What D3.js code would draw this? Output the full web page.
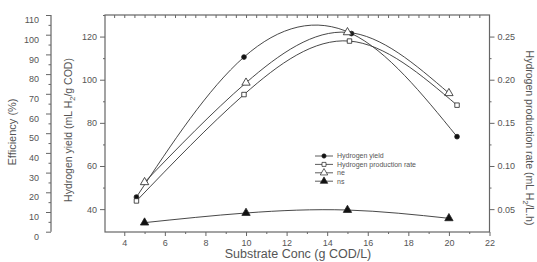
<!DOCTYPE html>
<html lang="en">
<head>
    <meta charset="UTF-8">
    <title>Hydrogen yield vs substrate concentration</title>
    <script src="https://d3js.org/d3.v7.min.js"></script>
    <style>
        body { margin: 0; background: #fff; }
        svg text { font-family: "Liberation Sans", Arial, sans-serif; fill: #555; }
    </style>
</head>
<body>
    <div id="chart"></div>

    <script>
        // Data
        const xTicks = [4, 6, 8, 10, 12, 14, 16, 18, 20, 22];
        const yieldTicks = [40, 60, 80, 100, 120];
        const rateTicks = [0.05, 0.10, 0.15, 0.20, 0.25];
        const effTicks = [0, 10, 20, 30, 40, 50, 60, 70, 80, 90, 100, 110];

        const yieldX = [4.6, 9.9, 15.2, 20.4];
        const yieldY = [45.6, 110.5, 121.4, 73.6];          // mL H2/g COD
        const rateX = [4.6, 9.9, 15.1, 20.4];
        const rateY = [0.0595, 0.1828, 0.2448, 0.1705];      // mL H2/L.h
        const neX = [5, 10, 15, 20];
        const neY = [25.1, 75.6, 101.2, 70.3];               // %
        const nsX = [5, 10, 15, 20];
        const nsY = [4.6, 9.5, 11.0, 6.8];                   // %

        const width = 537, height = 262;
        const plot = { left: 105, right: 489.5, top: 15, bottom: 232 };
        const effAxisX = 51;

        const svg = d3.select("#chart").append("svg")
            .attr("width", width)
            .attr("height", height);

        const x = d3.scaleLinear().domain([3.05, 22]).range([plot.left, plot.right]);
        const yYield = d3.scaleLinear().domain([29.4, 130]).range([plot.bottom, plot.top]);
        const yRate = d3.scaleLinear().domain([0.0235, 0.275]).range([plot.bottom, plot.top]);
        const yEff = d3.scaleLinear().domain([0, 110]).range([231.7, 15]);

        const axisColor = "#666";
        const lineColor = "#333";

        // frame
        svg.append("rect")
            .attr("x", plot.left).attr("y", plot.top)
            .attr("width", plot.right - plot.left).attr("height", plot.bottom - plot.top)
            .attr("fill", "none").attr("stroke", axisColor).attr("stroke-width", 1.2);

        function styleAxis(g) {
            g.select(".domain").remove();
            g.selectAll("line").attr("stroke", axisColor);
            g.selectAll("text").attr("font-size", 9).attr("fill", "#5e5e5e");
        }

        // bottom axis
        svg.append("g")
            .attr("transform", `translate(0,${plot.bottom})`)
            .call(d3.axisBottom(x).tickValues(xTicks).tickSize(4).tickPadding(4))
            .call(styleAxis);
        svg.append("g")
            .attr("transform", `translate(0,${plot.bottom})`)
            .call(d3.axisBottom(x).tickValues(d3.range(5, 22, 2)).tickSize(2).tickFormat(""))
            .call(styleAxis);
        // top minor ticks
        svg.append("g")
            .attr("transform", `translate(0,${plot.top})`)
            .call(d3.axisBottom(x).tickValues(d3.range(3.5, 22, 0.5)).tickSize(3).tickFormat(""))
            .call(styleAxis);

        // left (hydrogen yield) axis
        svg.append("g")
            .attr("transform", `translate(${plot.left},0)`)
            .call(d3.axisLeft(yYield).tickValues(yieldTicks).tickSize(5).tickPadding(3))
            .call(styleAxis);
        svg.append("g")
            .attr("transform", `translate(${plot.left},0)`)
            .call(d3.axisLeft(yYield).tickValues([50, 70, 90, 110, 130]).tickSize(2).tickFormat(""))
            .call(styleAxis);

        // right (production rate) axis
        svg.append("g")
            .attr("transform", `translate(${plot.right},0)`)
            .call(d3.axisRight(yRate).tickValues(rateTicks).tickSize(5).tickPadding(3).tickFormat(d3.format(".2f")))
            .call(styleAxis);
        svg.append("g")
            .attr("transform", `translate(${plot.right},0)`)
            .call(d3.axisRight(yRate).tickValues([0.075, 0.125, 0.175, 0.225]).tickSize(2).tickFormat(""))
            .call(styleAxis);

        // efficiency axis (separate, far left)
        svg.append("line")
            .attr("x1", effAxisX).attr("x2", effAxisX)
            .attr("y1", yEff(110)).attr("y2", yEff(0))
            .attr("stroke", axisColor).attr("stroke-width", 1.2);
        const effAxis = svg.append("g")
            .attr("transform", `translate(${effAxisX},0)`)
            .call(d3.axisLeft(yEff).tickValues(effTicks).tickSize(5).tickPadding(7))
            .call(styleAxis);
        effAxis.selectAll("text").attr("dy", "0.85em");
        svg.append("g")
            .attr("transform", `translate(${effAxisX},0)`)
            .call(d3.axisLeft(yEff).tickValues(d3.range(5, 110, 10)).tickSize(2.5).tickFormat(""))
            .call(styleAxis);

        // axis titles
        svg.append("text")
            .attr("x", 298).attr("y", 258)
            .attr("text-anchor", "middle").attr("font-size", 12.5)
            .text("Substrate Conc (g COD/L)");

        svg.append("text")
            .attr("transform", "translate(16,132) rotate(-90)")
            .attr("text-anchor", "middle").attr("font-size", 11)
            .text("Efficiency (%)");

        const yl = svg.append("text")
            .attr("transform", "translate(72,130) rotate(-90)")
            .attr("text-anchor", "middle").attr("font-size", 10.5);
        yl.append("tspan").text("Hydrogen yield (mL H");
        yl.append("tspan").attr("font-size", 7.5).attr("dy", 3).text("2");
        yl.append("tspan").attr("dy", -3).text("/g COD)");

        const yr = svg.append("text")
            .attr("transform", "translate(526,138) rotate(90)")
            .attr("text-anchor", "middle").attr("font-size", 10.5);
        yr.append("tspan").text("Hydrogen production rate (mL H");
        yr.append("tspan").attr("font-size", 7.5).attr("dy", 3).text("2");
        yr.append("tspan").attr("dy", -3).text("/L.h)");

        // series
        const series = [
            { name: "Hydrogen yield", xs: yieldX, ys: yieldY, y: yYield, symbol: d3.symbolCircle, size: 18, filled: true },
            { name: "Hydrogen production rate", xs: rateX, ys: rateY, y: yRate, symbol: d3.symbolSquare, size: 20, filled: false },
            { name: "ne", xs: neX, ys: neY, y: yEff, symbol: d3.symbolTriangle, size: 30, filled: false },
            { name: "ns", xs: nsX, ys: nsY, y: yEff, symbol: d3.symbolTriangle, size: 30, filled: true }
        ];

        const line = d3.line().curve(d3.curveNatural);

        series.forEach(s => {
            const pts = s.xs.map((v, i) => [x(v), s.y(s.ys[i])]);
            svg.append("path")
                .attr("d", line(pts))
                .attr("fill", "none")
                .attr("stroke", lineColor)
                .attr("stroke-width", 0.9);
            svg.append("g").selectAll("path")
                .data(pts)
                .join("path")
                .attr("transform", d => `translate(${d[0]},${d[1]})`)
                .attr("d", d3.symbol(s.symbol, s.size))
                .attr("fill", s.filled ? "#111" : "#fff")
                .attr("stroke", "#222")
                .attr("stroke-width", 0.8);
        });

        // legend
        const legend = svg.append("g").attr("transform", "translate(315,156)");
        series.forEach((s, i) => {
            const g = legend.append("g").attr("transform", `translate(0,${i * 8.4})`);
            g.append("line").attr("x1", 0).attr("x2", 18).attr("stroke", lineColor).attr("stroke-width", 0.8);
            g.append("path")
                .attr("transform", "translate(9,0)")
                .attr("d", d3.symbol(s.symbol, s.size * 0.8))
                .attr("fill", s.filled ? "#111" : "#fff")
                .attr("stroke", "#222").attr("stroke-width", 0.7);
            g.append("text")
                .attr("x", 22).attr("dy", "0.35em")
                .attr("font-size", 7)
                .attr("fill", "#666")
                .text(s.name);
        });
    </script>
</body>
</html>
